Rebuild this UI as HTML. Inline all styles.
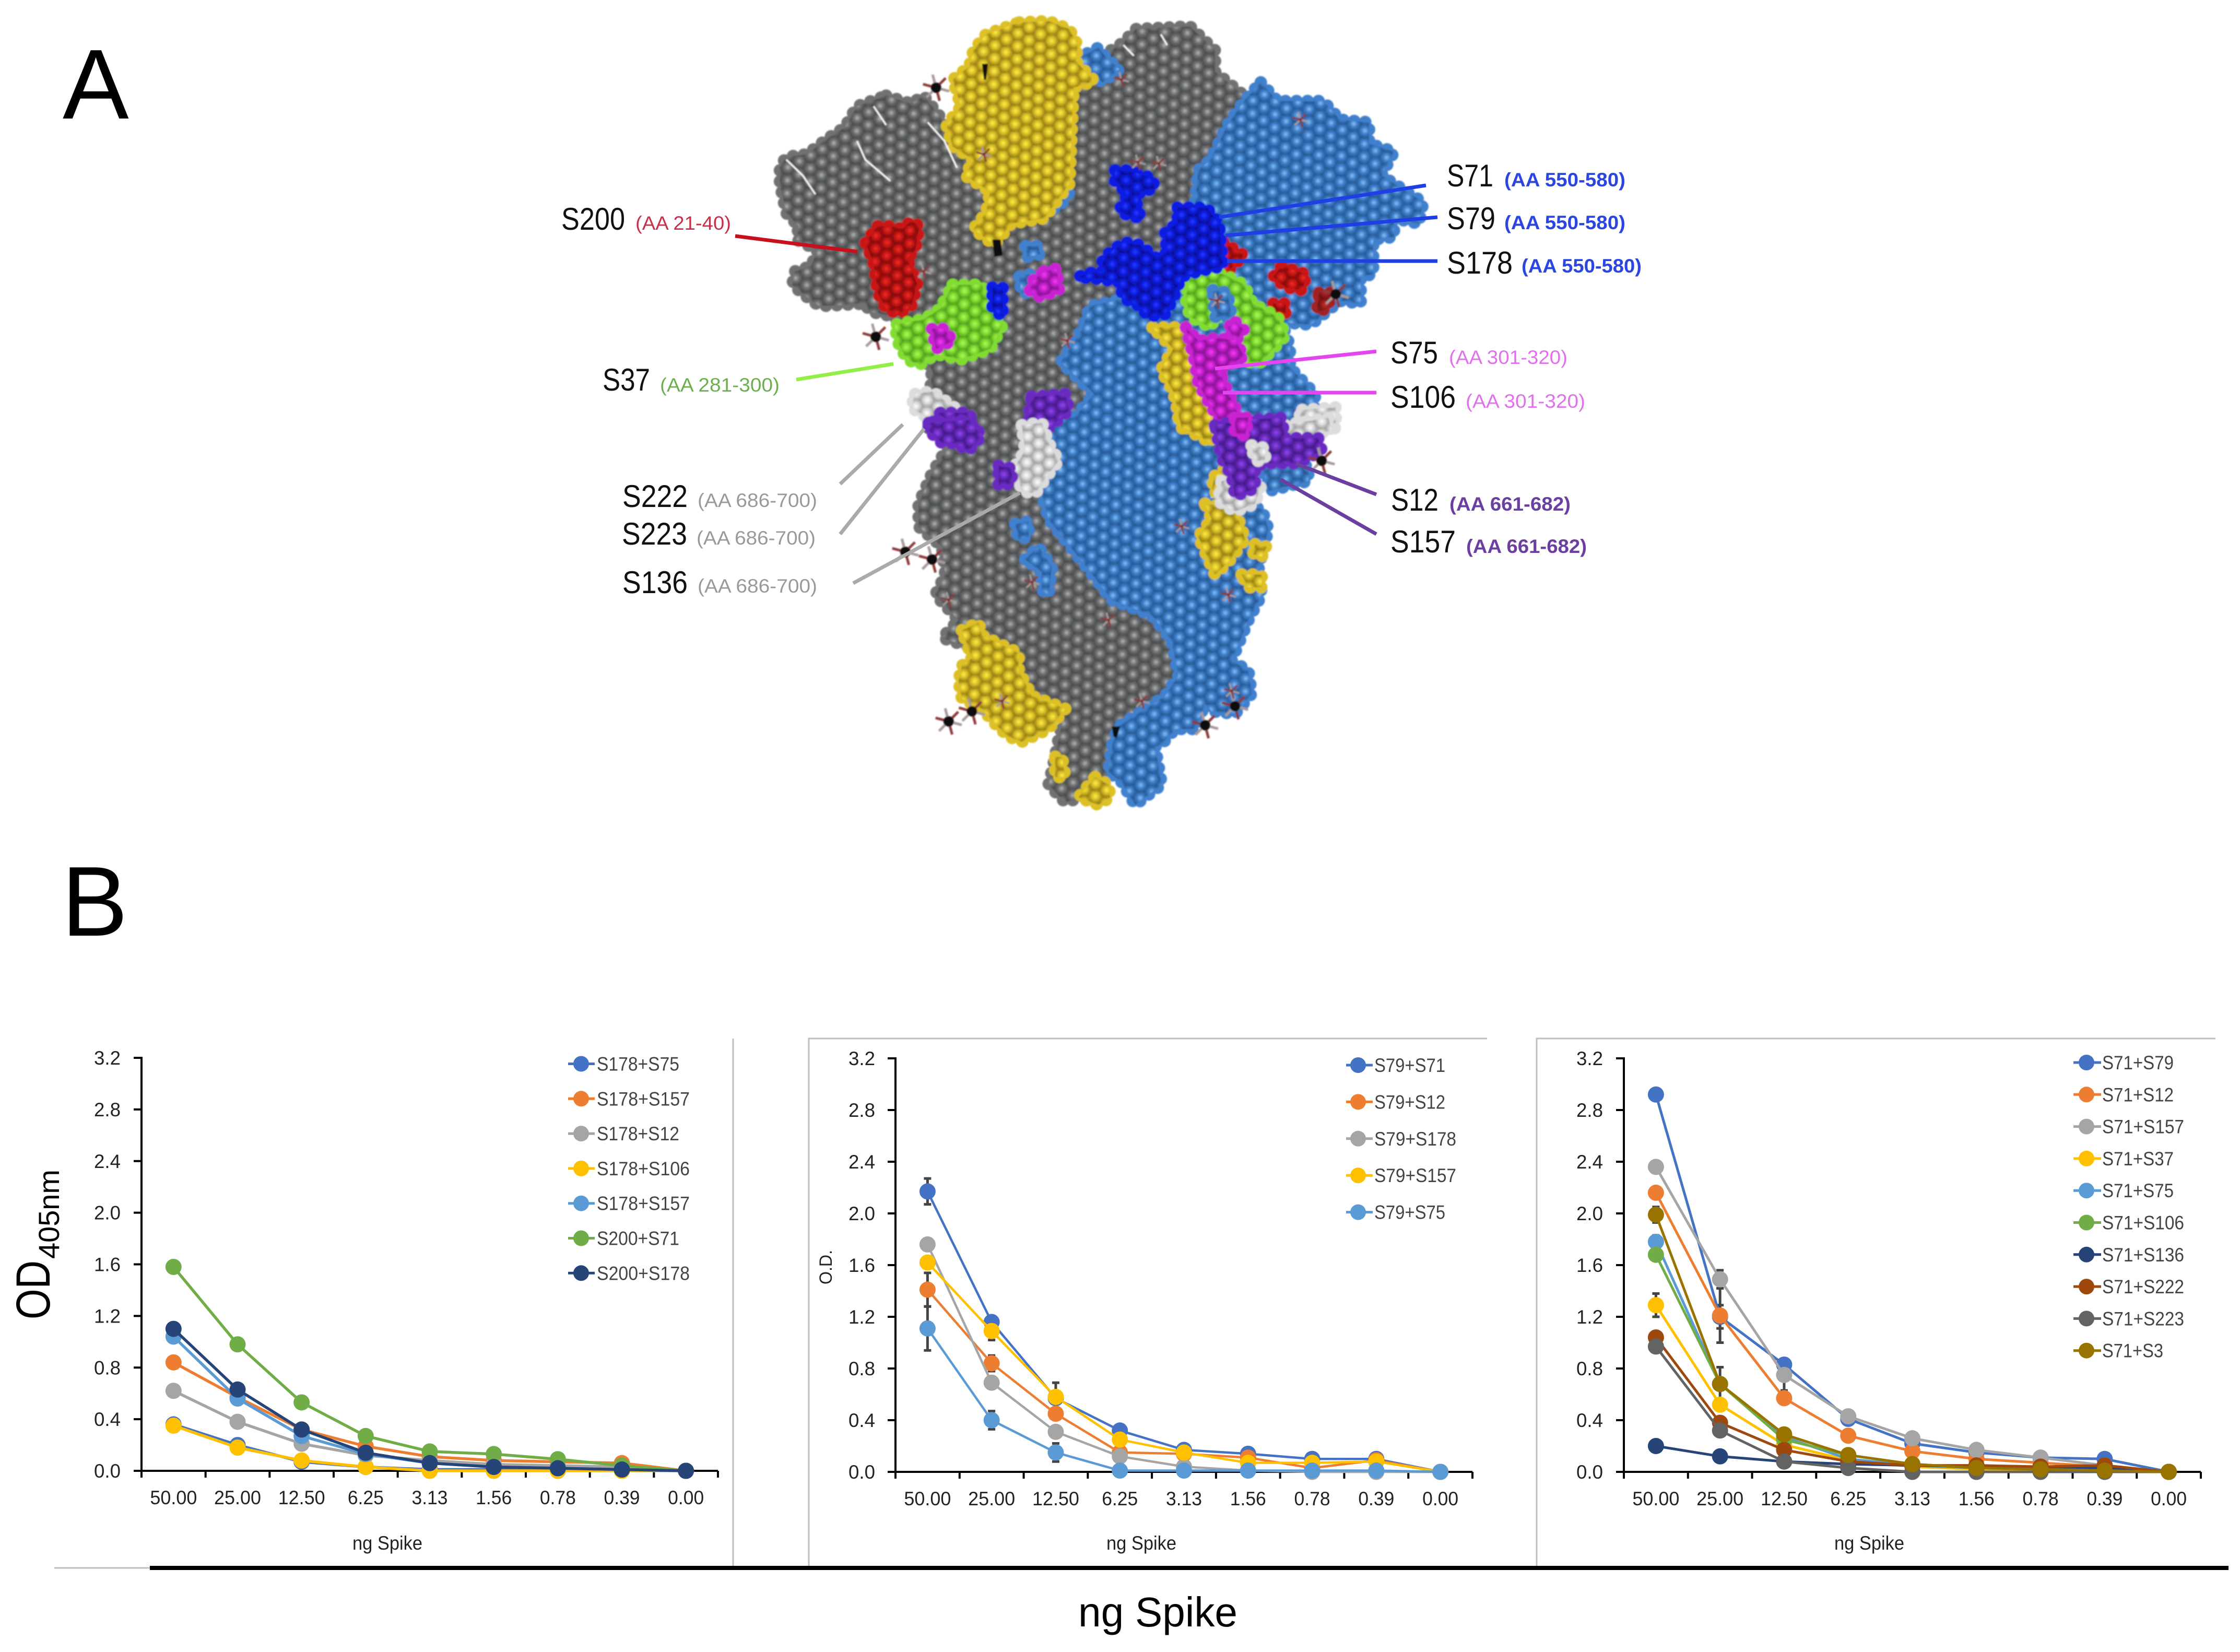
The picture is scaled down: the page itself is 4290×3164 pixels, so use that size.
<!DOCTYPE html>
<html lang="en">
<head>
<meta charset="utf-8">
<title>Spike antibody epitopes and ELISA curves</title>
<style>
html,body{margin:0;padding:0;background:#fff;}
svg{display:block;}
text{font-family:"Liberation Sans",sans-serif;}
</style>
</head>
<body>
<svg id="fig" xmlns="http://www.w3.org/2000/svg" width="4290" height="3164" viewBox="0 0 4290 3164">
  <rect width="4290" height="3164" fill="#fff"/>
  <defs id="defs"><filter id="soft" x="-5%" y="-5%" width="110%" height="110%"><feGaussianBlur stdDeviation="1.4"/></filter></defs>

  <text x="120" y="227" font-size="190" fill="#000">A</text>
  <text x="118" y="1792" font-size="190" fill="#000">B</text>

  <g id="molecule" filter="url(#soft)"></g>

  <g fill="none" stroke-width="7">
    <line x1="1408" y1="452" x2="1642" y2="482" stroke="#c8101c"/>
    <line x1="2731" y1="355" x2="2335" y2="416" stroke="#1f3fe6"/>
    <line x1="2753" y1="416" x2="2347" y2="451" stroke="#1f3fe6"/>
    <line x1="2753" y1="500" x2="2350" y2="500" stroke="#1f3fe6"/>
    <line x1="1525" y1="727" x2="1711" y2="697" stroke="#93ee45"/>
    <line x1="2636" y1="673" x2="2327" y2="706" stroke="#e545f0"/>
    <line x1="2636" y1="752" x2="2342" y2="752" stroke="#e545f0"/>
    <line x1="1609" y1="927" x2="1729" y2="813" stroke="#aaaaaa"/>
    <line x1="1609" y1="1023" x2="1770" y2="821" stroke="#aaaaaa"/>
    <line x1="1634" y1="1117" x2="1953" y2="944" stroke="#aaaaaa"/>
    <line x1="2636" y1="947" x2="2482" y2="888" stroke="#6a3fa0"/>
    <line x1="2636" y1="1023" x2="2452" y2="918" stroke="#6a3fa0"/>
  </g>

  <g>
    <text x="1075" y="440" font-size="60" fill="#111" textLength="122" lengthAdjust="spacingAndGlyphs">S200</text>
    <text x="1217" y="440" font-size="37" fill="#c8304a" textLength="183" lengthAdjust="spacingAndGlyphs">(AA 21-40)</text>
    <text x="2771" y="357" font-size="60" fill="#111" textLength="89" lengthAdjust="spacingAndGlyphs">S71</text>
    <text x="2881" y="357" font-size="37" font-weight="bold" fill="#2b45e0" textLength="232" lengthAdjust="spacingAndGlyphs">(AA 550-580)</text>
    <text x="2771" y="439" font-size="60" fill="#111" textLength="93" lengthAdjust="spacingAndGlyphs">S79</text>
    <text x="2881" y="439" font-size="37" font-weight="bold" fill="#2b45e0" textLength="232" lengthAdjust="spacingAndGlyphs">(AA 550-580)</text>
    <text x="2771" y="524" font-size="60" fill="#111" textLength="126" lengthAdjust="spacingAndGlyphs">S178</text>
    <text x="2914" y="522" font-size="37" font-weight="bold" fill="#2b45e0" textLength="230" lengthAdjust="spacingAndGlyphs">(AA 550-580)</text>
    <text x="1154" y="748" font-size="60" fill="#111" textLength="91" lengthAdjust="spacingAndGlyphs">S37</text>
    <text x="1264" y="750" font-size="37" fill="#6cb04e" textLength="229" lengthAdjust="spacingAndGlyphs">(AA 281-300)</text>
    <text x="2663" y="696" font-size="60" fill="#111" textLength="91" lengthAdjust="spacingAndGlyphs">S75</text>
    <text x="2775" y="697" font-size="37" fill="#e070ec" textLength="227" lengthAdjust="spacingAndGlyphs">(AA 301-320)</text>
    <text x="2663" y="781" font-size="60" fill="#111" textLength="125" lengthAdjust="spacingAndGlyphs">S106</text>
    <text x="2807" y="781" font-size="37" fill="#e070ec" textLength="229" lengthAdjust="spacingAndGlyphs">(AA 301-320)</text>
    <text x="1192" y="971" font-size="60" fill="#111" textLength="125" lengthAdjust="spacingAndGlyphs">S222</text>
    <text x="1336" y="971" font-size="37" fill="#999" textLength="229" lengthAdjust="spacingAndGlyphs">(AA 686-700)</text>
    <text x="1191" y="1043" font-size="60" fill="#111" textLength="125" lengthAdjust="spacingAndGlyphs">S223</text>
    <text x="1334" y="1043" font-size="37" fill="#999" textLength="228" lengthAdjust="spacingAndGlyphs">(AA 686-700)</text>
    <text x="1192" y="1136" font-size="60" fill="#111" textLength="125" lengthAdjust="spacingAndGlyphs">S136</text>
    <text x="1336" y="1135" font-size="37" fill="#999" textLength="229" lengthAdjust="spacingAndGlyphs">(AA 686-700)</text>
    <text x="2664" y="978" font-size="60" fill="#111" textLength="91" lengthAdjust="spacingAndGlyphs">S12</text>
    <text x="2776" y="978" font-size="37" font-weight="bold" fill="#6a3fa0" textLength="232" lengthAdjust="spacingAndGlyphs">(AA 661-682)</text>
    <text x="2663" y="1058" font-size="60" fill="#111" textLength="125" lengthAdjust="spacingAndGlyphs">S157</text>
    <text x="2808" y="1059" font-size="37" font-weight="bold" fill="#6a3fa0" textLength="231" lengthAdjust="spacingAndGlyphs">(AA 661-682)</text>
  </g>

  <g stroke="#bfbfbf" stroke-width="3" fill="none">
    <line x1="1404" y1="1989" x2="1404" y2="3003"/>
    <polyline points="1549,3003 1549,1989 2848,1989"/>
    <polyline points="2943,3003 2943,1989 4243,1989"/>
    <line x1="104" y1="3003" x2="290" y2="3003"/>
  </g>
  <line x1="287" y1="3003" x2="4268" y2="3003" stroke="#000" stroke-width="8"/>

  <text transform="translate(95,2527) rotate(-90)" font-size="92" fill="#000"><tspan textLength="113" lengthAdjust="spacingAndGlyphs">OD</tspan><tspan font-size="56" dy="18" dx="3" textLength="171" lengthAdjust="spacingAndGlyphs">405nm</tspan></text>
  <text x="2065" y="3115" font-size="80" fill="#000" textLength="305" lengthAdjust="spacingAndGlyphs">ng Spike</text>
  <text transform="translate(1593,2460) rotate(-90)" font-size="34" fill="#222" textLength="66" lengthAdjust="spacingAndGlyphs">O.D.</text>

  <g id="charts"></g>
</svg>

<script>
/* ---------- chart data ---------- */
const categories = ["50.00","25.00","12.50","6.25","3.13","1.56","0.78","0.39","0.00"];
const yTicks = [0,0.4,0.8,1.2,1.6,2.0,2.4,2.8,3.2];

const p1Names  = ["S178+S75","S178+S157","S178+S12","S178+S106","S178+S157","S200+S71","S200+S178"];
const p1Colors = ["#4472C4","#ED7D31","#A5A5A5","#FFC000","#5B9BD5","#70AD47","#264478"];
const p1S178S75   = [0.36,0.20,0.07,0.03,0.01,0.01,0.01,0.01,0];
const p1S178S157a = [0.84,0.57,0.32,0.19,0.11,0.08,0.07,0.06,0];
const p1S178S12   = [0.62,0.38,0.21,0.12,0.08,0.05,0.04,0.03,0];
const p1S178S106  = [0.35,0.18,0.08,0.03,0.00,0.00,0.00,0.00,0];
const p1S178S157b = [1.04,0.56,0.27,0.13,0.06,0.03,0.02,0.01,0];
const p1S200S71   = [1.58,0.98,0.53,0.27,0.15,0.13,0.09,0.04,0];
const p1S200S178  = [1.10,0.63,0.32,0.14,0.06,0.03,0.02,0.01,0];

const p2Names  = ["S79+S71","S79+S12","S79+S178","S79+S157","S79+S75"];
const p2Colors = ["#4472C4","#ED7D31","#A5A5A5","#FFC000","#5B9BD5"];
const p2S79S71  = [2.17,1.16,0.57,0.32,0.17,0.14,0.10,0.10,0];
const p2S79S12  = [1.41,0.84,0.45,0.15,0.14,0.11,0.03,0.09,0];
const p2S79S178 = [1.76,0.69,0.31,0.12,0.04,0.01,0.00,0.00,0];
const p2S79S157 = [1.62,1.09,0.58,0.25,0.15,0.07,0.07,0.08,0];
const p2S79S75  = [1.11,0.40,0.15,0.01,0.01,0.01,0.01,0.01,0];
const p2ErrS79S71  = [0.10,0.04,0.03,0,0,0,0,0,0];
const p2ErrS79S12  = [0.13,0.06,0.03,0,0,0,0,0,0];
const p2ErrS79S178 = [0.04,0.04,0.02,0,0,0,0,0,0];
const p2ErrS79S157 = [0.04,0.07,0.11,0,0,0,0,0,0];
const p2ErrS79S75  = [0.17,0.07,0.07,0,0,0,0,0,0];

const p3Names  = ["S71+S79","S71+S12","S71+S157","S71+S37","S71+S75","S71+S106","S71+S136","S71+S222","S71+S223","S71+S3"];
const p3Colors = ["#4472C4","#ED7D31","#A5A5A5","#FFC000","#5B9BD5","#70AD47","#264478","#9E480E","#636363","#997300"];
const p3S71S79  = [2.92,1.20,0.83,0.41,0.22,0.15,0.11,0.10,0];
const p3S71S12  = [2.16,1.21,0.57,0.28,0.16,0.10,0.07,0.04,0];
const p3S71S157 = [2.36,1.49,0.75,0.43,0.26,0.17,0.11,0.05,0];
const p3S71S37  = [1.29,0.52,0.21,0.09,0.04,0.02,0.01,0.01,0];
const p3S71S75  = [1.78,0.68,0.27,0.10,0.05,0.03,0.02,0.01,0];
const p3S71S106 = [1.68,0.68,0.25,0.13,0.06,0.03,0.02,0.01,0];
const p3S71S136 = [0.20,0.12,0.08,0.06,0.05,0.04,0.04,0.03,0];
const p3S71S222 = [1.04,0.38,0.17,0.08,0.05,0.05,0.04,0.05,0];
const p3S71S223 = [0.97,0.32,0.08,0.03,0.00,0.00,0.00,0.00,0];
const p3S71S3   = [1.99,0.68,0.29,0.13,0.06,0.03,0.02,0.01,0];
const p3ErrS71S79  = [0.03,0.09,0.03,0,0,0,0,0,0];
const p3ErrS71S12  = [0.03,0.21,0.03,0,0,0,0,0,0];
const p3ErrS71S157 = [0.03,0.07,0.12,0,0,0,0,0,0];
const p3ErrS71S37  = [0.09,0.04,0.02,0,0,0,0,0,0];
const p3ErrS71S75  = [0.05,0.03,0.02,0,0,0,0,0,0];
const p3ErrS71S106 = [0.03,0.13,0.02,0,0,0,0,0,0];
const p3ErrS71S3   = [0.06,0.03,0.02,0,0,0,0,0,0];

/* ---------- chart drawing ---------- */
const NS = "http://www.w3.org/2000/svg";
function mk(tag, attrs, parent){
  const e = document.createElementNS(NS, tag);
  for (const k in attrs) e.setAttribute(k, attrs[k]);
  parent.appendChild(e);
  return e;
}
function mkText(str, attrs, parent){
  const e = mk("text", attrs, parent);
  e.textContent = str;
  return e;
}
const panels = [
  {id:"panel-1", left:271, right:1375, top:2026, bottom:2817, tickEnd:231, lw:5.5,
   names:p1Names, colors:p1Colors,
   series:[p1S178S75,p1S178S157a,p1S178S12,p1S178S106,p1S178S157b,p1S200S71,p1S200S178], errs:[],
   lgLineX:1088, lgMarkX:1113, lgLineEnd:1139, lgTextX:1143, lgY:2037.5, lgStep:66.8, titleX:675},
  {id:"panel-2", left:1715, right:2820, top:2027, bottom:2819, tickEnd:1676, lw:4.5,
   names:p2Names, colors:p2Colors,
   series:[p2S79S71,p2S79S12,p2S79S178,p2S79S157,p2S79S75],
   errs:[p2ErrS79S71,p2ErrS79S12,p2ErrS79S178,p2ErrS79S157,p2ErrS79S75],
   lgLineX:2578, lgMarkX:2601, lgLineEnd:2629, lgTextX:2632, lgY:2040, lgStep:70.4, titleX:2119},
  {id:"panel-3", left:3110, right:4215, top:2027, bottom:2819, tickEnd:3070, lw:5,
   names:p3Names, colors:p3Colors,
   series:[p3S71S79,p3S71S12,p3S71S157,p3S71S37,p3S71S75,p3S71S106,p3S71S136,p3S71S222,p3S71S223,p3S71S3],
   errs:[p3ErrS71S79,p3ErrS71S12,p3ErrS71S157,p3ErrS71S37,p3ErrS71S75,p3ErrS71S106,null,null,null,p3ErrS71S3],
   lgLineX:3971, lgMarkX:3996, lgLineEnd:4024, lgTextX:4026, lgY:2035, lgStep:61.3, titleX:3513}
];
const chartsRoot = document.getElementById("charts");
const yMax = yTicks[yTicks.length-1];

panels.forEach(function(p){
  const g = mk("g", {}, chartsRoot);
  
  
  const xOf = function(i){ return p.left + (i + 0.5) * (p.right - p.left) / categories.length; };
  const yOf = function(v){ return p.bottom - v / yMax * (p.bottom - p.top); };

  const yAxis = mk("line", {x1:p.left,x2:p.left,y1:p.top-2,y2:p.bottom+2,stroke:"#000","stroke-width":4}, g);
  
  
  const xAxis = mk("line", {x1:p.left,x2:p.right,y1:p.bottom,y2:p.bottom,stroke:"#000","stroke-width":4}, g);
  
  

  yTicks.forEach(function(t){
    const tk = mk("line", {x1:p.left-15,x2:p.left,y1:yOf(t),y2:yOf(t),stroke:"#000","stroke-width":4}, g);
    
    
    const lb = mkText(t.toFixed(1), {x:p.tickEnd-51,y:yOf(t)+13,"font-size":37,fill:"#222",textLength:51,lengthAdjust:"spacingAndGlyphs"}, g);
    
    
  });
  for (let i = 0; i <= categories.length; i++){
    const x = p.left + i * (p.right - p.left) / categories.length;
    const tk = mk("line", {x1:x,x2:x,y1:p.bottom,y2:p.bottom+13,stroke:"#000","stroke-width":4}, g);
    
    
  }
  categories.forEach(function(c,i){
    const w = c.length === 5 ? 90 : 69;
    const lb = mkText(c, {x:xOf(i)-w/2,y:p.bottom+64,"font-size":37,fill:"#222",textLength:w,lengthAdjust:"spacingAndGlyphs"}, g);
    
    
  });
  const title = mkText("ng Spike", {x:p.titleX,y:2968,"font-size":37,fill:"#222",textLength:134,lengthAdjust:"spacingAndGlyphs"}, g);
  
  

  p.errs.forEach(function(errArr, s){
    if (!errArr) return;
    errArr.forEach(function(e, i){
      if (!e) return;
      const v = p.series[s][i];
      const bar = mk("path", {d:"M"+(xOf(i)-7)+" "+yOf(v+e)+"h14M"+xOf(i)+" "+yOf(v+e)+"V"+yOf(v-e)+"M"+(xOf(i)-7)+" "+yOf(v-e)+"h14",
        stroke:"#444","stroke-width":5,fill:"none"}, g);
      
      
    });
  });

  p.series.forEach(function(vals, s){
    const sg = mk("g", {}, g);
    
    
    const line = mk("polyline", {points:vals.map(function(v,i){return xOf(i)+","+yOf(v);}).join(" "),fill:"none",stroke:p.colors[s],"stroke-width":p.lw}, sg);
    
    
    vals.forEach(function(v,i){
      const pt = mk("circle", {cx:xOf(i),cy:yOf(v),r:15.5,fill:p.colors[s]}, sg);
      
      
    });
  });

  p.names.forEach(function(n, s){
    const y = p.lgY + s * p.lgStep;
    const lg = mk("g", {}, g);
    
    
    const l = mk("line", {x1:p.lgLineX,x2:p.lgLineEnd,y1:y,y2:y,stroke:p.colors[s],"stroke-width":5}, lg);
    
    
    const m = mk("circle", {cx:p.lgMarkX,cy:y,r:15,fill:p.colors[s]}, lg);
    
    
    const digits = n.length;
    const w = p.id === "panel-1" ? (digits === 8 ? 158 : 178) : p.id === "panel-2" ? (digits === 7 ? 136 : 157) : (digits === 6 ? 117 : digits === 7 ? 137 : 157);
    const t = mkText(n, {x:p.lgTextX,y:y+13,"font-size":37,fill:"#444",textLength:w,lengthAdjust:"spacingAndGlyphs"}, lg);
    
    
  });
});

/* ---------- molecular surface illustration ---------- */
const palette = {
  gray:["#b4b5b5","#6f7172","#464849"], blue:["#8cc0f5","#3f80cc","#24558f"], yellow:["#fff04a","#dcc028","#8f7a12"],
  red:["#f03226","#c81414","#7a0c0c"], navy:["#2a3eff","#0a1ee2","#060c90"], green:["#b4f85a","#82dc32","#4c9a1a"],
  magenta:["#f83cf0","#c822d2","#80108a"], purple:["#9448ea","#6a2cc2","#401880"], white:["#ffffff","#dcdcdc","#9c9c9c"], darkred:["#c83434","#a02020","#680e0e"],
  black:["#111111","#111111","#111111"]
};
const defs = document.getElementById("defs");
Object.keys(palette).forEach(function(k){
  const c = palette[k];
  const grad = mk("radialGradient", {id:"g-"+k,cx:"0.48",cy:"0.46",r:"0.52"}, defs);
  mk("stop", {offset:"0","stop-color":c[0]}, grad);
  mk("stop", {offset:"0.45","stop-color":c[1]}, grad);
  mk("stop", {offset:"1","stop-color":c[2]}, grad);
  const pat = mk("pattern", {id:"p-"+k,width:25,height:43,patternUnits:"userSpaceOnUse",patternTransform:"rotate(32)"}, defs);
  mk("rect", {width:25,height:43,fill:c[2]}, pat);
  [[12.5,10.75],[0,32.25],[25,32.25],[12.5,53.75],[0,-10.75],[25,-10.75]].forEach(function(q){
    mk("circle", {cx:q[0],cy:q[1],r:14,fill:"url(#g-"+k+")"}, pat);
  });
});
const sources = {
  T:function(x,y){return [1450+x/1.2544, 20+y/1.96];},
  B:function(x,y){return [1600+x/1.568, 800+y/2.063];}
};
const moleculeRegions = [
  ["T","gray","310,320 370,350 400,320 440,400 470,500 600,300 770,230 880,120 910,70 1040,60 1100,150 1100,230 1170,320 1150,420 1100,700 1050,1000 800,1100 800,1400 820,1568 410,1568 420,1350 400,1300 330,1150 270,1130 260,1100 150,1110 115,1070 85,1030 90,980 130,960 145,900 95,860 100,810 70,760 55,650 55,590 70,550 120,540 170,480 210,440 240,360"],
  ["B","gray","430,0 570,0 560,100 630,300 640,400 760,600 830,720 950,780 1010,880 1030,1020 990,1100 850,1220 830,1300 810,1420 740,1500 690,1520 640,1450 660,1340 670,1270 690,1150 600,1100 550,1000 550,930 390,900 320,870 370,800 300,700 330,620 320,510 250,430 250,340 290,220 340,110 400,130"],
  ["T","blue","1210,270 1250,340 1360,340 1400,410 1470,420 1470,500 1530,530 1500,620 1600,720 1590,800 1530,780 1530,850 1480,860 1480,990 1450,1000 1450,1100 1400,1090 1330,1180 1260,1170 1280,1260 1280,1340 1340,1440 1340,1500 1300,1568 740,1568 810,1440 730,1320 780,1200 800,1110 860,1090 1010,1000 1050,750 1060,600 1090,560 1130,430 1170,340"],
  ["B","blue","640,0 1170,0 1170,150 1130,260 1110,340 1200,340 1280,360 1300,440 1270,600 1280,700 1240,800 1190,960 1240,1000 1250,1090 1200,1170 1130,1160 1110,1130 1080,1230 1020,1230 980,1290 960,1300 980,1450 900,1530 860,1440 820,1400 830,1300 850,1220 990,1100 1030,1020 1010,880 950,780 830,720 760,600 640,400 620,300 650,150"],
  ["B","blue","1280,180 1420,190 1420,250 1300,290"],
  ["B","blue","540,420 580,410 580,470 550,480"],
  ["B","blue","570,560 610,510 650,590 640,700 620,680 620,610"],
  ["T","blue","770,180 820,140 840,180 870,220 830,270 800,230"],
  ["T","blue","700,700 750,685 725,740 705,745"],
  ["T","blue","645,885 675,885 680,915 650,925"],
  ["T","blue","630,1000 655,990 655,1060 635,1060"],
  ["T","yellow","630,45 700,40 750,70 770,130 765,190 810,265 760,290 750,650 690,780 610,800 570,880 520,820 550,760 560,680 500,620 520,560 470,510 455,430 490,360 470,260 510,210 520,150 550,90"],
  ["T","yellow","950,1190 1030,1190 1050,1300 1070,1400 1100,1530 1110,1568 1020,1568 1000,1430 970,1350 1000,1270"],
  ["B","yellow","1030,0 1130,0 1130,100 1060,50"],
  ["B","yellow","1140,230 1170,200 1200,220 1170,330 1130,280"],
  ["B","yellow","1110,340 1200,360 1230,480 1180,570 1140,620 1120,560 1090,470 1130,400"],
  ["B","yellow","1220,620 1280,620 1280,670 1240,670"],
  ["B","yellow","1260,500 1295,510 1280,550 1255,540"],
  ["B","yellow","380,840 430,810 440,860 550,930 550,1000 590,1100 690,1150 640,1230 560,1280 520,1260 480,1210 440,1150 380,1110 370,1040 380,980 410,950"],
  ["B","yellow","660,1340 680,1340 690,1420 660,1420"],
  ["B","yellow","780,1420 820,1450 825,1500 790,1530 750,1510 730,1500"],
  ["T","red","290,810 320,810 350,820 370,790 390,810 380,900 360,930 385,1030 370,1110 340,1140 310,1120 290,1060 280,950 260,870"],
  ["T","red","1120,870 1170,920 1130,980 1100,970"],
  ["T","red","1260,960 1320,990 1310,1050 1270,1040 1240,1000"],
  ["T","red","1240,1100 1270,1100 1270,1135 1240,1135"],
  ["T","darkred","1350,1060 1380,1060 1370,1120 1345,1130"],
  ["T","green","1060,980 1120,990 1170,1030 1190,1100 1250,1150 1270,1220 1240,1270 1210,1320 1170,1320 1170,1250 1140,1150 1100,1150 1090,1190 1040,1150 1030,1080 1040,1000"],
  ["T","blue","1095,1050 1130,1060 1140,1150 1100,1150"],
  ["T","green","470,1030 540,1030 560,1120 590,1180 560,1270 490,1310 430,1290 390,1330 360,1310 340,1250 330,1180 400,1160 440,1120"],
  ["T","magenta","420,1195 450,1195 470,1240 430,1270"],
  ["T","magenta","690,980 720,970 725,1050 680,1075 655,1050 665,1010"],
  ["T","magenta","1030,1190 1060,1240 1110,1230 1150,1240 1170,1300 1110,1350 1130,1430 1160,1530 1190,1568 1120,1568 1060,1400 1050,1310"],
  ["T","magenta","1150,1170 1170,1200 1150,1240 1130,1190"],
  ["T","navy","1010,740 1080,740 1110,800 1120,960 1060,980 1020,1000 1000,1080 980,1140 940,1150 920,1110 880,1080 870,1020 830,1010 770,1000 800,985 830,980 830,930 880,870 920,880 960,930 985,910 980,830 1010,800"],
  ["T","navy","860,600 890,600 950,630 955,670 920,680 910,740 925,780 890,770 870,750 890,690 860,640"],
  ["T","navy","565,1040 590,1040 590,1150 565,1120"],
  ["T","white","380,1440 420,1430 500,1520 410,1530 370,1490"],
  ["T","white","1310,1500 1390,1490 1390,1568 1290,1568"],
  ["T","purple","660,1450 740,1440 750,1500 700,1568 650,1540"],
  ["T","purple","440,1510 510,1510 520,1568 410,1568"],
  ["B","white","560,30 620,20 640,100 670,170 630,240 600,300 560,290 540,190 570,130"],
  ["B","white","1350,30 1480,0 1490,50 1430,70 1350,80"],
  ["B","white","1160,250 1200,240 1210,320 1250,280 1280,260 1260,340 1200,370 1150,330"],
  ["B","purple","490,190 530,200 530,260 490,270"],
  ["B","purple","280,20 400,10 440,70 400,130 360,100 320,100 280,50"],
  ["B","purple","1140,30 1220,10 1340,0 1350,80 1450,80 1460,130 1390,180 1300,180 1260,190 1260,280 1200,310 1190,230 1160,160"],
  ["B","white","1250,110 1290,120 1290,170 1260,170"],
  ["B","magenta","1200,0 1240,0 1230,70 1200,60"],
  ["T","black","565,860 585,860 590,920 570,925"],
  ["T","black","540,200 555,200 550,260 545,260"],
  ["B","black","830,1220 855,1220 845,1265 835,1260"]
];
const moleculeRoot = document.getElementById("molecule");
function regionPath(r){
  const toXY = sources[r[0]];
  const pts = r[2].split(" ").map(function(s){
    const q = s.split(",");
    const o = toXY(+q[0], +q[1]);
    return o[0].toFixed(1) + " " + o[1].toFixed(1);
  });
  return "M" + pts.join("L") + "Z";
}
function drawRun(run){
  run.forEach(function(r){
    if (r[1] === "black") return;
    const edge = mk("path", {d:regionPath(r),fill:"none",stroke:palette[r[1]][1],"stroke-width":24,"stroke-dasharray":"0.1 21","stroke-linecap":"round"}, moleculeRoot);
    
    
  });
  run.forEach(function(r){
    const fill = mk("path", {d:regionPath(r),fill:"url(#p-"+r[1]+")"}, moleculeRoot);
    
    
  });
}
let currentRun = [];
moleculeRegions.forEach(function(r){
  if (currentRun.length && currentRun[0][1] !== r[1]){
    drawRun(currentRun);
    currentRun = [];
  }
  currentRun.push(r);
});
drawRun(currentRun);
const seams = ["T|280,360 310,430","T|240,490 260,560 320,640","T|410,420 450,490 480,590","T|70,560 110,620 140,690","T|880,130 905,170","T|970,90 985,130"];
seams.forEach(function(s){
  const parts = s.split("|");
  const toXY = sources[parts[0]];
  const pts = parts[1].split(" ").map(function(q){ const c = q.split(","); return toXY(+c[0], +c[1]).join(","); }).join(" ");
  const e = mk("polyline", {points:pts,fill:"none",stroke:"#fff","stroke-width":3}, moleculeRoot);
  
  
});
const glycans = [
  ["T",430,290,1],["T",285,1225,1],["T",1390,1065,1],["B",210,530,1],["B",290,560,1],["B",340,1200,1],["B",410,1160,1],["B",1110,1215,1],["B",1460,170,1],["B",1200,1140,1],
  ["T",545,540,0],["T",915,570,0],["T",965,575,0],["T",1305,410,0],["T",400,980,0],["T",745,1240,0],["T",1105,1090,0],["T",875,260,0],
  ["B",1040,430,0],["B",590,650,0],["B",820,800,0],["B",1180,700,0],["B",920,1120,0],["B",1190,1080,0],["B",340,720,0],["B",500,1120,0]
];
glycans.forEach(function(gl){
  const o = sources[gl[0]](gl[1], gl[2]);
  const g = mk("g", {}, moleculeRoot);
  
  
  const len = gl[3] ? 26 : 15;
  for (let a = 0; a < 6; a++){
    const t = (a * 60 + 15) * Math.PI / 180;
    mk("line", {x1:o[0],y1:o[1],x2:o[0]+Math.cos(t)*len,y2:o[1]+Math.sin(t)*len,stroke:a%2?"#8a3a3a":"#a79a9a","stroke-width":gl[3]?5:3.5}, g);
  }
  mk("circle", {cx:o[0],cy:o[1],r:gl[3]?10:3,fill:gl[3]?"#111":"#7a3030"}, g);
});
</script>
</body>
</html>
